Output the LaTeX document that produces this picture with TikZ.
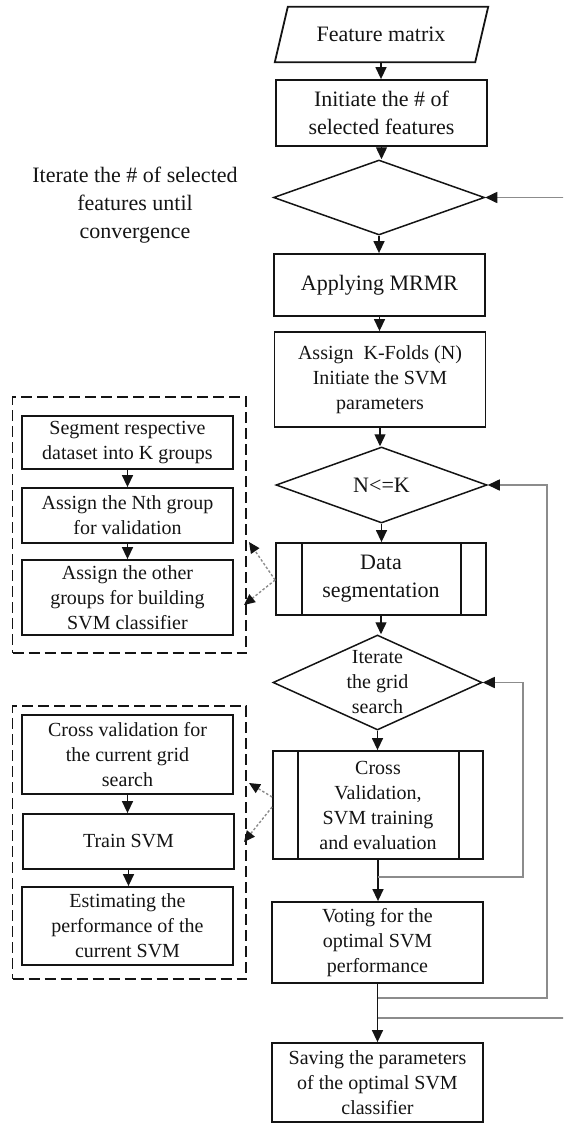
\documentclass[tikz,border=0pt]{standalone}
\usepackage{fontspec}
\setmainfont{Liberation Serif}
\usetikzlibrary{arrows.meta,shapes.geometric,calc}
\definecolor{ink}{HTML}{141414}
\definecolor{loopgray}{HTML}{8C8C8C}
\tikzset{
  fbig/.style={font=\fontsize{22}{28}\selectfont},
  fsmall/.style={font=\fontsize{20}{25}\selectfont},
  proc/.style={draw=ink, line width=1.8pt, minimum width=211pt, align=center, inner sep=0pt, text=ink},
  sub/.style={proc, fsmall},
  dec/.style={draw=ink, line width=1.5pt, diamond, inner sep=0pt, minimum width=211pt},
  grp/.style={draw=ink, line width=1.9pt, dash pattern=on 11pt off 5pt, inner sep=0pt},
  label/.style={align=center, text=ink, inner sep=0pt},
  arr/.style={draw=ink, line width=1.4pt, -{Triangle[width=11pt,length=12pt]}},
  loopback/.style={draw=loopgray, line width=1.6pt, -{Triangle[width=11pt,length=12pt,color=ink]}},
  hint/.style={draw=loopgray, line width=1.4pt, dash pattern=on 2.5pt off 2pt, -{Triangle[width=10pt,length=11pt,color=ink]}},
}
\begin{document}
\begin{tikzpicture}[x=1pt,y=-1pt]
\useasboundingbox (0,0) rectangle (563,1124);
\clip (0,0) rectangle (563,1124);

% main column
\node[label, fbig, minimum width=200pt, minimum height=55pt] (fm) at (381,34.5) {Feature matrix};
\draw[ink, line width=1.8pt] ([xshift=7pt]fm.north west) -- ([xshift=7pt]fm.north east)
  -- ([xshift=-6pt]fm.south east) -- ([xshift=-6pt]fm.south west) -- cycle;
\node[proc, fbig, minimum height=66pt] (init) at (381.5,113) {Initiate the \# of\\selected features};
\node[dec, minimum height=75pt] (d1) at (379,197.5) {};
\node[label, fbig] (note) at (135,205) {Iterate the \# of selected\\features until\\convergence};
\node[proc, fbig, minimum height=62pt] (mrmr) at (379.5,285) {Applying MRMR};
\node[proc, fsmall, minimum height=95pt] (kf) at (380,379.5) {Assign\ \ K-Folds (N)\\Initiate the SVM\\parameters};
\node[dec, minimum height=76pt] (d2) at (381.5,485) {};
\node[label, fbig] (d2t) at (d2) {N<=K};
\node[proc, fbig, minimum width=210pt, minimum height=72pt] (ds) at (381,579) {Data\\segmentation};
\draw[ink, line width=1.8pt] ([xshift=27pt]ds.north west) -- ([xshift=27pt]ds.south west)
  ([xshift=-26pt]ds.north east) -- ([xshift=-26pt]ds.south east);
\node[dec, minimum width=209pt, minimum height=95pt] (d3) at (377.5,682.5) {};
\node[label, fsmall] (d3t) at (d3) {Iterate\\the grid\\search};
\node[proc, fsmall, minimum width=210pt, minimum height=108pt] (cv) at (378,805) {Cross\\Validation,\\SVM training\\and evaluation};
\draw[ink, line width=1.8pt] ([xshift=26pt]cv.north west) -- ([xshift=26pt]cv.south west)
  ([xshift=-25pt]cv.north east) -- ([xshift=-25pt]cv.south east);
\node[proc, fsmall, minimum height=81pt] (vote) at (377.5,942.5) {Voting for the\\optimal SVM\\performance};
\node[proc, fsmall, minimum height=79pt] (save) at (377.5,1082.5) {Saving the parameters\\of the optimal SVM\\classifier};

% data segmentation detail
\node[grp, minimum width=233.5pt, minimum height=256pt] (g1) at (129.25,525) {};
\node[sub, minimum height=53pt] (s1) at (127.5,442.5) {Segment respective\\dataset into K groups};
\node[sub, minimum height=55pt] (s2) at (127.5,515.5) {Assign the Nth group\\for validation};
\node[sub, minimum height=75pt] (s3) at (127.5,597.5) {Assign the other\\groups for building\\SVM classifier};

% cross validation detail
\node[grp, minimum width=233.5pt, minimum height=273pt] (g2) at (129.25,842.5) {};
\node[sub, minimum height=79pt] (c1) at (127.5,754.5) {Cross validation for\\the current grid\\search};
\node[sub, minimum height=55pt] (c2) at (128.5,841.5) {Train SVM};
\node[sub, minimum height=78pt] (c3) at (127.5,926) {Estimating the\\performance of the\\current SVM};

% main flow
\draw[arr] (fm.south) -- (fm.south |- init.north);
\draw[arr] (init.south) -- (init.south |- d1.north);
\draw[arr] (d1.south) -- (d1.south |- mrmr.north);
\draw[arr] (mrmr.south) -- (mrmr.south |- kf.north);
\draw[arr] (kf.south) -- (kf.south |- d2.north);
\draw[arr] (d2.south) -- (d2.south |- ds.north);
\draw[arr] (ds.south) -- (ds.south |- d3.north);
\draw[arr] (d3.south) -- (d3.south |- cv.north);
\draw[arr] (cv.south) -- (cv.south |- vote.north);
\draw[arr] (vote.south) -- (vote.south |- save.north);

\draw[arr] (s1.south) -- (s1.south |- s2.north);
\draw[arr] (s2.south) -- (s2.south |- s3.north);
\draw[arr] (c1.south) -- (c1.south |- c2.north);
\draw[arr] (c2.south) -- (c2.south |- c3.north);

% loops back to the decisions
\coordinate (j3) at (378,877);
\coordinate (j2) at (378,998);
\coordinate (j1) at (378,1018);
\draw[loopback] (j3) -- (523,877) |- (d3.east);
\draw[loopback] (j2) -- (547,998) |- (d2.east);
\draw[loopback] (j1) -- (572,1018) |- (d1.east);

% links to the detail groups
\coordinate (h1) at (249,542);
\coordinate (h2) at (244,605);
\coordinate (h3) at (249,783);
\coordinate (h4) at (244,842);
\draw[hint] ($(ds.west)+(0,1)$) -- (h1);
\draw[hint] ($(ds.west)+(0,1)$) -- (h2);
\draw[hint] ($(cv.west)+(0,-8)$) -- (h3);
\draw[hint] ($(cv.west)+(0,2)$) -- (h4);
\end{tikzpicture}
\end{document}
